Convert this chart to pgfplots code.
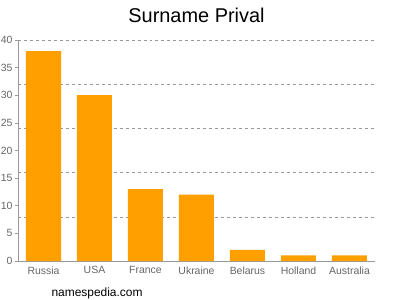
\documentclass[border=0pt]{standalone}
\usepackage{pgfplots}
\pgfplotsset{compat=1.18}
\usepackage{fontspec}
\setmainfont{Liberation Sans}
\definecolor{barc}{HTML}{FFA000}
\definecolor{axc}{HTML}{999999}
\definecolor{tickc}{HTML}{666666}
\begin{document}
\begin{tikzpicture}[x=1bp,y=1bp]
\useasboundingbox (-18,-39) rectangle (382,261);
\begin{axis}[
  at={(0,0)}, anchor=south west,
  scale only axis, width=357bp, height=221bp,
  xmin=-0.5, xmax=6.5, ymin=0, ymax=40,
  axis x line*=bottom, axis y line*=left,
  axis line style={axc, line width=0.8pt},
  xtick={0,...,6},
  xticklabels={Russia,USA,France,Ukraine,Belarus,Holland,Australia},
  ytick={0,5,...,40},
  extra y ticks={8,16,24,32,40},
  extra y tick labels={},
  extra y tick style={grid=major, major grid style={axc, dashed, line width=0.6pt}, major tick length=0pt},
  x tick style={draw=none},
  y tick style={axc, line width=0.6pt},
  major tick length=3bp,
  tick align=outside,
  ticklabel style={font=\fontsize{10.5}{12}\selectfont, text=tickc},
  yticklabel style={xshift=1bp},
  xticklabel style={yshift=1bp},
  /pgf/number format/assume math mode=true,
  clip=false,
]
\addplot[ybar, bar width=35bp, fill=barc, draw=none, bar shift=0pt] coordinates {
(0,38) (1,30) (2,13) (3,12) (4,2) (5,1) (6,1)
};
\end{axis}
\node[font=\fontsize{20}{24}\selectfont, anchor=base] at (178.5,239) {Surname Prival};
\node[font=\fontsize{12}{14}\selectfont, anchor=base west] at (30,-35) {namespedia.com};
\end{tikzpicture}
\end{document}
